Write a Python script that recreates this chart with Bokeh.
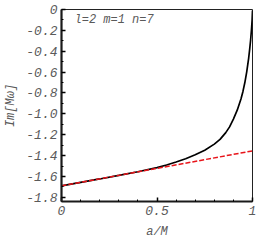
from bokeh.plotting import figure
from bokeh.models import FixedTicker, Label, Range1d
from bokeh.embed import file_html
from bokeh.resources import INLINE

# data
spin_a = [0.0, 0.1, 0.2, 0.3, 0.4, 0.5, 0.55, 0.6, 0.65, 0.7, 0.75, 0.8, 0.83,
          0.86, 0.88, 0.9, 0.92, 0.94, 0.95, 0.96, 0.97, 0.98, 0.985, 0.99,
          0.995, 0.998, 1.0]
im_omega = [-1.690, -1.657, -1.624, -1.590, -1.555, -1.515, -1.490, -1.462,
            -1.430, -1.392, -1.348, -1.290, -1.245, -1.180, -1.125, -1.050,
            -0.965, -0.855, -0.785, -0.700, -0.595, -0.465, -0.385, -0.295,
            -0.185, -0.100, -0.010]
approx_a = [0.0, 1.0]
approx_im = [-1.690, -1.355]

x_ticks = [0, 0.5, 1]
x_labels = ["0", "0.5", "1"]
y_ticks = [0, -0.2, -0.4, -0.6, -0.8, -1.0, -1.2, -1.4, -1.6, -1.8]
y_labels = ["0", "-0.2", "-0.4", "-0.6", "-0.8", "-1.0", "-1.2", "-1.4", "-1.6", "-1.8"]
x_minor = [0.1, 0.2, 0.3, 0.4, 0.6, 0.7, 0.8, 0.9]
y_minor = [-0.1, -0.3, -0.5, -0.7, -0.9, -1.1, -1.3, -1.5, -1.7]

FONT = "Liberation Mono"
GRAY = "#5a5a5a"

p = figure(frame_width=191, frame_height=192, output_backend="svg",
           toolbar_location=None,
           x_range=Range1d(0, 1), y_range=Range1d(-1.84, 0),
           min_border_left=61, min_border_right=6, min_border_top=9,
           min_border_bottom=43)
p.background_fill_color = "white"
p.border_fill_color = "white"
p.grid.visible = False
p.outline_line_color = "#222222"
p.outline_line_width = 1

p.line(spin_a, im_omega, line_color="black", line_width=1.7)
p.line(approx_a, approx_im, line_color="#e8141a", line_width=1.5, line_dash="5 2")

for ax in (p.xaxis[0], p.yaxis[0]):
    ax.axis_line_width = 2.2
    ax.axis_line_color = "#1a1a1a"
    ax.major_tick_in = 4
    ax.major_tick_out = 0
    ax.minor_tick_in = 2
    ax.minor_tick_out = 0
    ax.major_tick_line_width = 1.5
    ax.minor_tick_line_width = 1
    ax.major_label_text_font = FONT
    ax.major_label_text_font_style = "italic"
    ax.major_label_text_font_size = "13px"
    ax.major_label_text_color = GRAY
    ax.axis_label_text_font = FONT
    ax.axis_label_text_font_style = "italic"
    ax.axis_label_text_font_size = "12px"
    ax.axis_label_text_color = GRAY

p.xaxis.ticker = FixedTicker(ticks=x_ticks, minor_ticks=x_minor)
p.xaxis.major_label_overrides = dict(zip(x_ticks, x_labels))
p.yaxis.ticker = FixedTicker(ticks=y_ticks, minor_ticks=y_minor)
p.yaxis.major_label_overrides = dict(zip(y_ticks, y_labels))
p.xaxis.axis_label = "a/M"
p.yaxis.axis_label = "Im[Mω]"
p.xaxis.major_label_standoff = 4
p.yaxis.major_label_standoff = 4
p.xaxis.axis_label_standoff = 7
p.yaxis.axis_label_standoff = 5

p.add_layout(Label(x=0.068, y=-0.105, text="l=2  m=1  n=7", text_font=FONT,
                   text_font_style="italic", text_font_size="12px",
                   text_color=GRAY, text_baseline="middle"))

open("out.html", "w").write(file_html(p, INLINE))
